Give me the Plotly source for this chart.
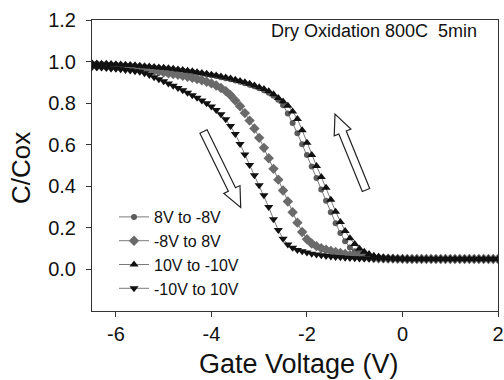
import numpy as np
import plotly.graph_objects as go

# Gate voltage sweep grid (V)
gate_v = np.round(np.arange(-6.5, 2.0001, 0.1), 1)

# C/Cox readings per sweep
c_8_to_m8 = [0.990, 0.989, 0.988, 0.987, 0.986, 0.985, 0.984, 0.982, 0.981, 0.979,
             0.977, 0.975, 0.973, 0.971, 0.969, 0.967, 0.965, 0.962, 0.959, 0.956,
             0.953, 0.950, 0.946, 0.942, 0.938, 0.934, 0.930, 0.925, 0.920, 0.915,
             0.909, 0.903, 0.896, 0.889, 0.881, 0.872, 0.862, 0.850, 0.836, 0.816,
             0.790, 0.750, 0.705, 0.655, 0.602, 0.550, 0.495, 0.440, 0.385, 0.330,
             0.275, 0.222, 0.175, 0.135, 0.105, 0.088,
             0.077, 0.069, 0.064, 0.060, 0.057, 0.055, 0.054, 0.053, 0.052, 0.051,
             0.050, 0.050, 0.050, 0.050, 0.050, 0.050, 0.050, 0.050, 0.050, 0.050,
             0.050, 0.050, 0.050, 0.050, 0.050, 0.050, 0.050, 0.050, 0.050, 0.050]

c_m8_to_8 = [0.980, 0.979, 0.978, 0.977, 0.975, 0.974, 0.972, 0.970, 0.968, 0.966,
             0.964, 0.961, 0.958, 0.955, 0.952, 0.948, 0.944, 0.940, 0.936, 0.932,
             0.927, 0.922, 0.916, 0.910, 0.903, 0.895, 0.885, 0.873, 0.858, 0.838,
             0.813, 0.785, 0.752, 0.716, 0.678, 0.633, 0.585, 0.535, 0.484, 0.432,
             0.380, 0.327, 0.275, 0.225, 0.180, 0.145, 0.125, 0.112, 0.102, 0.095,
             0.089, 0.084, 0.079, 0.074, 0.069, 0.065,
             0.062, 0.059, 0.057, 0.055, 0.054, 0.053, 0.052, 0.052, 0.051, 0.051,
             0.050, 0.050, 0.050, 0.050, 0.050, 0.050, 0.050, 0.050, 0.050, 0.050,
             0.050, 0.050, 0.050, 0.050, 0.050, 0.050, 0.050, 0.050, 0.050, 0.050]

c_10_to_m10 = [0.992, 0.991, 0.990, 0.989, 0.988, 0.987, 0.986, 0.985, 0.983, 0.982,
               0.980, 0.978, 0.976, 0.974, 0.972, 0.970, 0.968, 0.965, 0.962, 0.959,
               0.956, 0.953, 0.949, 0.945, 0.941, 0.937, 0.933, 0.928, 0.923, 0.918,
               0.912, 0.906, 0.900, 0.893, 0.885, 0.877, 0.868, 0.857, 0.843, 0.825,
               0.808, 0.788, 0.760, 0.724, 0.670, 0.610, 0.550, 0.498, 0.445, 0.393,
               0.335, 0.278, 0.228, 0.185, 0.150, 0.122,
               0.100, 0.085, 0.074, 0.066, 0.061, 0.057, 0.055, 0.054, 0.053, 0.052,
               0.051, 0.050, 0.050, 0.050, 0.050, 0.050, 0.050, 0.050, 0.050, 0.050,
               0.050, 0.050, 0.050, 0.050, 0.050, 0.050, 0.050, 0.050, 0.050, 0.050]

c_m10_to_10 = [0.975, 0.973, 0.971, 0.969, 0.967, 0.965, 0.963, 0.960, 0.957, 0.954,
               0.951, 0.944, 0.935, 0.925, 0.915, 0.905, 0.895, 0.884, 0.873, 0.862,
               0.850, 0.838, 0.826, 0.813, 0.799, 0.784, 0.767, 0.747, 0.722, 0.690,
               0.652, 0.604, 0.553, 0.503, 0.453, 0.405, 0.357, 0.300, 0.242, 0.190,
               0.148, 0.120, 0.104, 0.094, 0.087, 0.081, 0.076, 0.072, 0.068, 0.065,
               0.062, 0.060, 0.058, 0.056, 0.055, 0.054,
               0.053, 0.053, 0.052, 0.052, 0.052, 0.051, 0.051, 0.051, 0.051, 0.050,
               0.050, 0.050, 0.050, 0.050, 0.050, 0.050, 0.050, 0.050, 0.050, 0.050,
               0.050, 0.050, 0.050, 0.050, 0.050, 0.050, 0.050, 0.050, 0.050, 0.050]

series_names = ["8V to -8V", "-8V to 8V", "10V to -10V", "-10V to 10V"]
x_ticks = [-6, -4, -2, 0, 2]
y_ticks = [0.0, 0.2, 0.4, 0.6, 0.8, 1.0, 1.2]

FONT = "Liberation Sans, Arial, sans-serif"

styles = [
    dict(symbol="circle", size=6, color="#5c5c5c"),
    dict(symbol="diamond", size=8, color="#6a6a6a"),
    dict(symbol="triangle-up", size=8, color="#111111"),
    dict(symbol="triangle-down", size=8, color="#111111"),
]
data = [c_8_to_m8, c_m8_to_8, c_10_to_m10, c_m10_to_10]

fig = go.Figure()
for name, ys, st in zip(series_names, data, styles):
    fig.add_trace(go.Scatter(
        x=gate_v, y=ys, name=name, mode="lines+markers",
        line=dict(color="#7a7a7a", width=1),
        marker=dict(symbol=st["symbol"], size=st["size"], color=st["color"],
                    line=dict(width=0)),
    ))

W, H = 504, 380
# plot area in page pixels
L, R, T, B = 92, 498, 20, 311

def to_paper(px, py):
    return (px - L) / (R - L), (B - py) / (B - T)

def hollow_arrow(tail, tip, shaft=4.0, head=9.0, head_len=20.0):
    tx, ty = tail
    hx, hy = tip
    dx, dy = hx - tx, hy - ty
    n = (dx * dx + dy * dy) ** 0.5
    ux, uy = dx / n, dy / n
    px_, py_ = -uy, ux
    bx, by = hx - ux * head_len, hy - uy * head_len
    pts = [
        (tx + px_ * shaft, ty + py_ * shaft),
        (bx + px_ * shaft, by + py_ * shaft),
        (bx + px_ * head, by + py_ * head),
        (hx, hy),
        (bx - px_ * head, by - py_ * head),
        (bx - px_ * shaft, by - py_ * shaft),
        (tx - px_ * shaft, ty - py_ * shaft),
    ]
    pp = [to_paper(a, b) for a, b in pts]
    return "M " + " L ".join(f"{a:.5f},{b:.5f}" for a, b in pp) + " Z"

for tail, tip in [((203.5, 131.5), (240.7, 207.5)), ((366, 190), (335, 114))]:
    fig.add_shape(type="path", xref="paper", yref="paper",
                  path=hollow_arrow(tail, tip),
                  line=dict(color="#222222", width=1.2), fillcolor="white")

axis_common = dict(showline=True, linecolor="#333333", linewidth=1, mirror=True,
                   ticks="outside", ticklen=5, tickcolor="#333333",
                   showgrid=False, zeroline=False,
                   tickfont=dict(family=FONT, size=20, color="#111111"))

fig.update_xaxes(range=[-6.5, 2.0], tickvals=x_ticks, ticktext=[str(v) for v in x_ticks],
                 **axis_common)
fig.update_yaxes(range=[-0.2, 1.2], tickvals=y_ticks, tickformat=".1f",
                 ticklabelstandoff=6, **axis_common)

fig.add_annotation(text="Gate Voltage (V)", xref="paper", yref="paper",
                   x=to_paper(299, 0)[0], y=to_paper(0, 364)[1],
                   showarrow=False, font=dict(family=FONT, size=27, color="#111111"),
                   xanchor="center", yanchor="middle")
fig.add_annotation(text="C/Cox", xref="paper", yref="paper",
                   x=to_paper(21, 0)[0], y=to_paper(0, 168)[1], textangle=-90,
                   showarrow=False, font=dict(family=FONT, size=26, color="#111111"),
                   xanchor="center", yanchor="middle")
fig.add_annotation(text="Dry Oxidation 800C\u00a0 5min", xref="paper", yref="paper",
                   x=to_paper(479, 0)[0], y=to_paper(0, 31)[1],
                   showarrow=False, font=dict(family=FONT, size=18, color="#111111"),
                   xanchor="right", yanchor="middle")

fig.update_layout(
    width=W, height=H,
    margin=dict(l=L, r=W - R, t=T, b=H - B, autoexpand=False),
    paper_bgcolor="white", plot_bgcolor="white",
    showlegend=True,
    legend=dict(x=to_paper(114, 0)[0], y=to_paper(0, 200)[1], xanchor="left", yanchor="top",
                bgcolor="rgba(0,0,0,0)", font=dict(family=FONT, size=16, color="#111111"),
                itemwidth=30, tracegroupgap=0),
    font=dict(family=FONT),
)

fig.write_html(
    "out.html",
    config={"displayModeBar": False},
    post_script="document.body.style.margin='0';document.body.style.overflow='hidden';",
)
